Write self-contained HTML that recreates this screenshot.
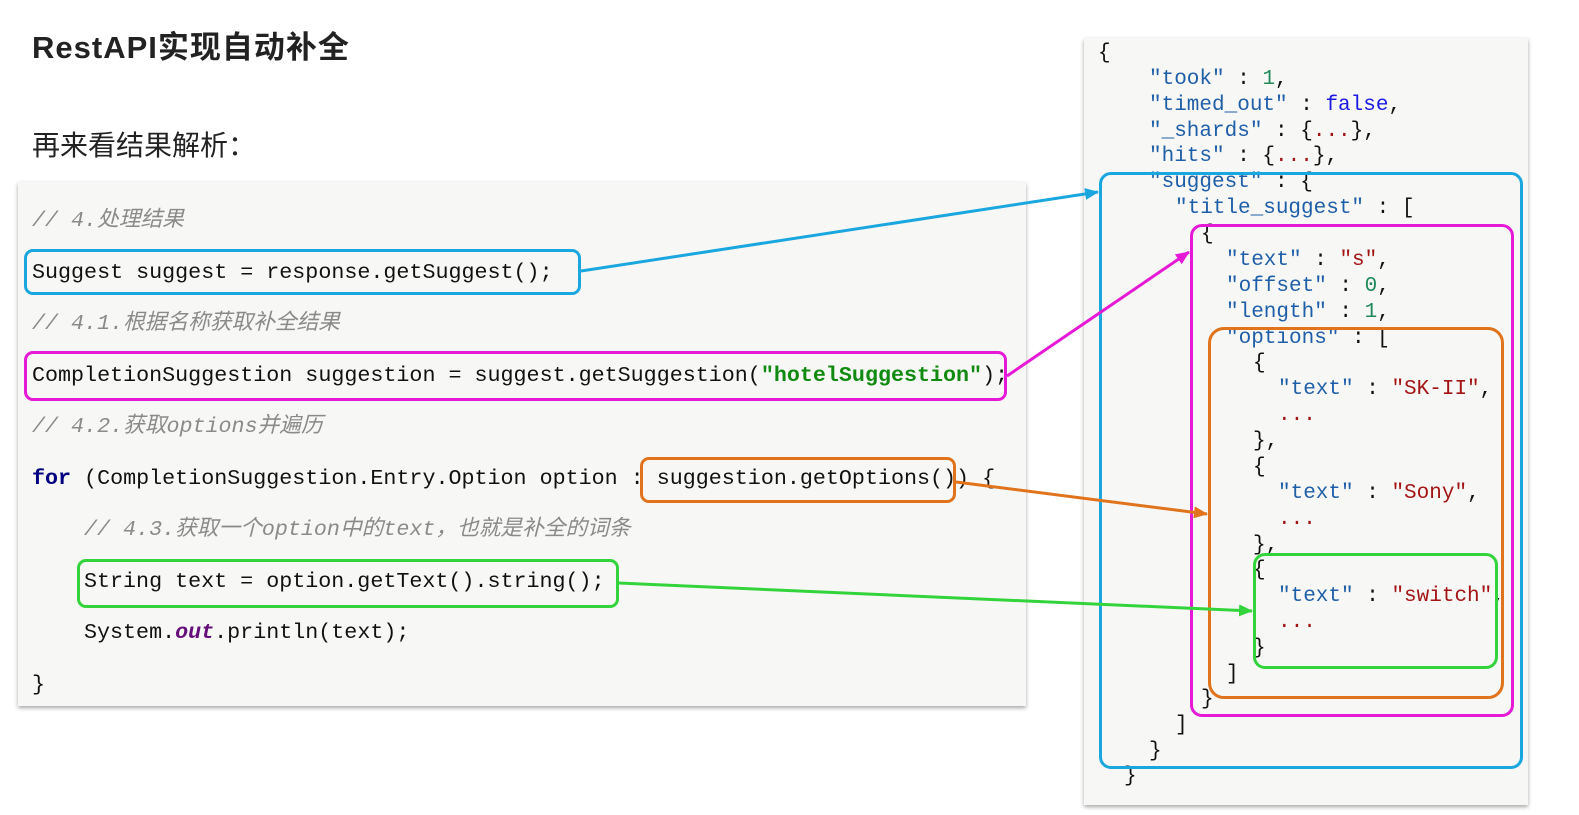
<!DOCTYPE html>
<html><head><meta charset="utf-8"><style>
body{margin:0;width:1579px;height:815px;background:#fff;position:relative;overflow:hidden;font-family:"Liberation Sans","Noto Sans CJK SC",sans-serif}
.p{position:absolute;background:#f7f8f5;box-shadow:0 2px 4px rgba(0,0,0,.35)}
.l{position:absolute;white-space:pre;font-family:"Liberation Mono","Noto Sans CJK SC",monospace;line-height:26px;height:26px}
.c{font-size:21.7px;color:#111}
.cm{color:#8a8a8a;font-style:italic}
.j{font-size:21px;color:#111}
.k{color:#1f5ea8}.s{color:#a31515}.n{color:#218a5a}.b{color:#1a1ae0}
.box{position:absolute;border:3px solid;border-radius:9px;box-sizing:border-box}
</style></head><body>
<div style="position:absolute;left:32px;top:22px;font-size:31px;font-weight:bold;color:#222;letter-spacing:1px">RestAPI实现自动补全</div>
<div style="position:absolute;left:32px;top:124px;font-size:28px;color:#222">再来看结果解析：</div>

<div class="p" style="left:18px;top:182px;width:1008px;height:524px"></div>
<div class="p" style="left:1084px;top:38px;width:444px;height:767px"></div>

<div class="l c cm" style="left:32px;top:208px">// 4.处理结果</div>
<div class="l c" style="left:32px;top:260px">Suggest suggest = response.getSuggest();</div>
<div class="l c cm" style="left:32px;top:311px">// 4.1.根据名称获取补全结果</div>
<div class="l c" style="left:32px;top:363px">CompletionSuggestion suggestion = suggest.getSuggestion(<b style="color:#118a11">"hotelSuggestion"</b>);</div>
<div class="l c cm" style="left:32px;top:414px">// 4.2.获取options并遍历</div>
<div class="l c" style="left:32px;top:466px"><b style="color:#000080">for</b> (CompletionSuggestion.Entry.Option option : suggestion.getOptions()) {</div>
<div class="l c cm" style="left:84px;top:517px">// 4.3.获取一个option中的text，也就是补全的词条</div>
<div class="l c" style="left:84px;top:569px">String text = option.getText().string();</div>
<div class="l c" style="left:84px;top:620px">System.<b style="color:#660e7a;font-style:italic">out</b>.println(text);</div>
<div class="l c" style="left:32px;top:672px">}</div>

<div class="l j" style="left:1098px;top:41px">{</div>
<div class="l j" style="left:1149px;top:67px"><span class="k">"took"</span> : <span class="n">1</span>,</div>
<div class="l j" style="left:1149px;top:93px"><span class="k">"timed_out"</span> : <span class="b">false</span>,</div>
<div class="l j" style="left:1149px;top:119px"><span class="k">"_shards"</span> : {<span class="s">...</span>},</div>
<div class="l j" style="left:1149px;top:144px"><span class="k">"hits"</span> : {<span class="s">...</span>},</div>
<div class="l j" style="left:1149px;top:170px"><span class="k">"suggest"</span> : {</div>
<div class="l j" style="left:1175px;top:196px"><span class="k">"title_suggest"</span> : [</div>
<div class="l j" style="left:1201px;top:222px">{</div>
<div class="l j" style="left:1226px;top:248px"><span class="k">"text"</span> : <span class="s">"s"</span>,</div>
<div class="l j" style="left:1226px;top:274px"><span class="k">"offset"</span> : <span class="n">0</span>,</div>
<div class="l j" style="left:1226px;top:300px"><span class="k">"length"</span> : <span class="n">1</span>,</div>
<div class="l j" style="left:1226px;top:326px"><span class="k">"options"</span> : [</div>
<div class="l j" style="left:1253px;top:351px">{</div>
<div class="l j" style="left:1278px;top:377px"><span class="k">"text"</span> : <span class="s">"SK-II"</span>,</div>
<div class="l j s" style="left:1278px;top:403px">...</div>
<div class="l j" style="left:1253px;top:429px">},</div>
<div class="l j" style="left:1253px;top:455px">{</div>
<div class="l j" style="left:1278px;top:481px"><span class="k">"text"</span> : <span class="s">"Sony"</span>,</div>
<div class="l j s" style="left:1278px;top:507px">...</div>
<div class="l j" style="left:1253px;top:533px">},</div>
<div class="l j" style="left:1253px;top:558px">{</div>
<div class="l j" style="left:1278px;top:584px"><span class="k">"text"</span> : <span class="s">"switch"</span>,</div>
<div class="l j s" style="left:1278px;top:610px">...</div>
<div class="l j" style="left:1253px;top:636px">}</div>
<div class="l j" style="left:1226px;top:662px">]</div>
<div class="l j" style="left:1201px;top:687px">}</div>
<div class="l j" style="left:1175px;top:713px">]</div>
<div class="l j" style="left:1149px;top:739px">}</div>
<div class="l j" style="left:1124px;top:764px">}</div>

<div class="box" style="border-color:#1aa7e0;left:24px;top:249px;width:557px;height:46px"></div>
<div class="box" style="border-color:#e619d6;left:24px;top:351px;width:983px;height:50px"></div>
<div class="box" style="border-color:#e0731c;left:640px;top:457px;width:316px;height:46px"></div>
<div class="box" style="border-color:#33d43b;left:77px;top:559px;width:542px;height:49px"></div>
<div class="box" style="border-color:#1aa7e0;left:1099px;top:172px;width:424px;height:597px;border-radius:12px"></div>
<div class="box" style="border-color:#e619d6;left:1190px;top:224px;width:324px;height:493px;border-radius:12px"></div>
<div class="box" style="border-color:#e0731c;left:1208px;top:327px;width:296px;height:372px;border-radius:16px"></div>
<div class="box" style="border-color:#33d43b;left:1253px;top:553px;width:245px;height:116px;border-radius:12px"></div>

<svg width="1579" height="815" style="position:absolute;left:0;top:0" xmlns="http://www.w3.org/2000/svg">
<defs>
<marker id="a1" markerWidth="14" markerHeight="12" refX="13" refY="6" orient="auto" markerUnits="userSpaceOnUse"><path d="M0,0L14,6L0,12z" fill="#1aa7e0"/></marker>
<marker id="a2" markerWidth="14" markerHeight="12" refX="13" refY="6" orient="auto" markerUnits="userSpaceOnUse"><path d="M0,0L14,6L0,12z" fill="#e619d6"/></marker>
<marker id="a3" markerWidth="14" markerHeight="12" refX="13" refY="6" orient="auto" markerUnits="userSpaceOnUse"><path d="M0,0L14,6L0,12z" fill="#e0731c"/></marker>
<marker id="a4" markerWidth="14" markerHeight="12" refX="13" refY="6" orient="auto" markerUnits="userSpaceOnUse"><path d="M0,0L14,6L0,12z" fill="#33d43b"/></marker>
</defs>
<line x1="581" y1="271" x2="1098" y2="192" stroke="#1aa7e0" stroke-width="3" marker-end="url(#a1)"/>
<line x1="1007" y1="376" x2="1189" y2="252" stroke="#e619d6" stroke-width="3" marker-end="url(#a2)"/>
<line x1="956" y1="482" x2="1207" y2="514" stroke="#e0731c" stroke-width="3" marker-end="url(#a3)"/>
<line x1="619" y1="583" x2="1252" y2="611" stroke="#33d43b" stroke-width="3" marker-end="url(#a4)"/>
</svg>
</body></html>
